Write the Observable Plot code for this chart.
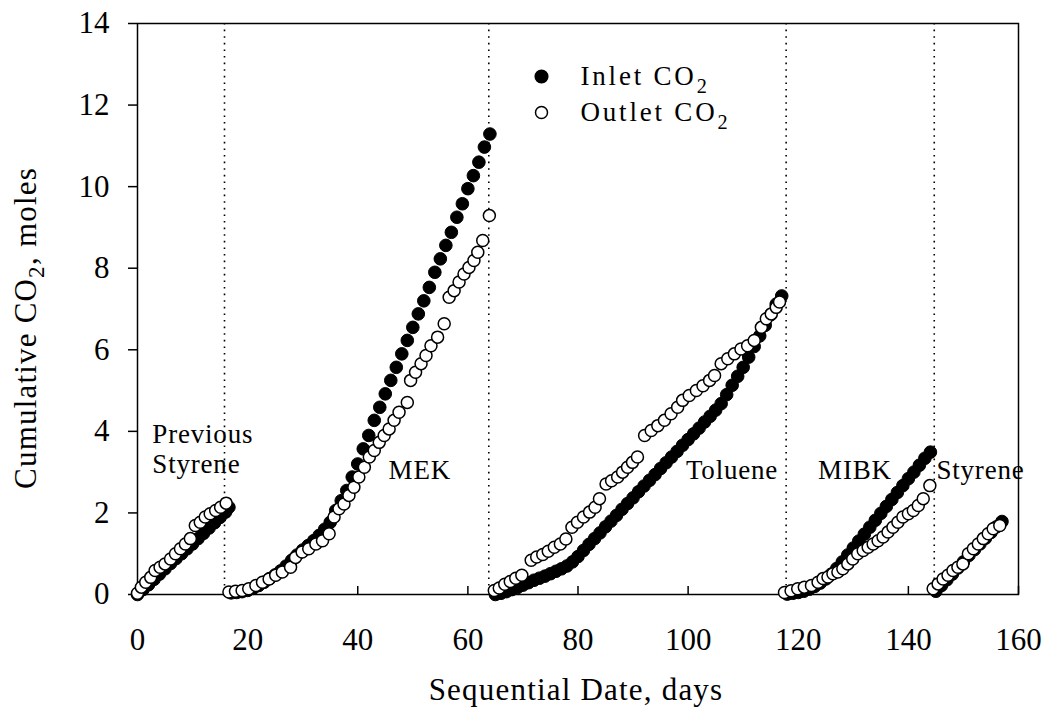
<!DOCTYPE html>
<html><head><meta charset="utf-8">
<script src="https://cdn.jsdelivr.net/npm/d3@7"></script>
<script src="https://cdn.jsdelivr.net/npm/@observablehq/plot@0.6"></script>
<style>
body{margin:0;background:#fff}
</style>
</head><body><div id="chart"></div>
<script>
// ---- Previous Styrene ----
const prevInletDay = [0,1,2,3,4,5,6,7,8,9,10,11,12,13,14,15,16,16.6];
const prevInletCO2 = [0.00,0.12,0.24,0.37,0.50,0.63,0.76,0.88,1.00,1.12,1.24,1.37,1.50,1.63,1.76,1.89,2.02,2.14];
const prevOutletDay = [0,0.7,1.5,2.4,3.2,4.1,5.0,6.0,6.9,7.8,8.7,9.6,10.5,11.4,12.3,13.2,14.2,15.1,16.1];
const prevOutletCO2 = [0.03,0.18,0.30,0.42,0.59,0.67,0.75,0.87,1.00,1.12,1.24,1.37,1.69,1.77,1.90,1.98,2.06,2.14,2.24];

// ---- MEK ----
const mekInletDay = [17,18,19,20,21,22,23,24,25,26,27,28,29,30,31,32,33,34,35,36,37,38,39,40,41,42,43,44,45,46,47,48,49,50,51,52,53,54,55,56,57,58,59,60,61,62,63,64];
const mekInletCO2 = [0.04,0.05,0.07,0.10,0.15,0.22,0.30,0.39,0.48,0.58,0.70,0.84,0.97,1.09,1.20,1.32,1.45,1.60,1.77,2.06,2.30,2.55,2.88,3.20,3.57,3.90,4.27,4.59,4.92,5.25,5.57,5.90,6.23,6.55,6.88,7.20,7.53,7.90,8.23,8.56,8.88,9.25,9.58,9.95,10.27,10.60,10.97,11.29];
const mekOutletDay = [16.6,17.8,19.0,20.2,21.5,22.7,23.9,25.1,26.3,27.8,28.7,29.9,31.1,32.4,33.6,34.8,35.7,36.6,37.5,38.4,39.3,40.2,41.2,42.1,43.0,43.9,44.8,45.7,46.6,47.5,49.0,49.6,50.5,51.5,52.4,53.3,54.5,55.7,56.6,57.5,58.4,59.3,60.2,61.1,61.8,62.7,63.9];
const mekOutletCO2 = [0.06,0.08,0.10,0.14,0.22,0.30,0.38,0.47,0.55,0.67,0.91,1.04,1.12,1.24,1.32,1.49,1.90,2.10,2.22,2.43,2.63,2.88,3.12,3.37,3.53,3.73,3.90,4.06,4.27,4.47,4.71,5.25,5.45,5.66,5.86,6.10,6.31,6.64,7.29,7.45,7.66,7.86,8.02,8.19,8.39,8.68,9.29];

// ---- Toluene ----
const tolInletDay = [65,66,67,68,69,70,71,72,73,74,75,76,77,78,79,80,81,82,83,84,85,86,87,88,89,90,91,92,93,94,95,96,97,98,99,100,101,102,103,104,105,106,107,108,109,110,111,112,113,114,115,116,117];
const tolInletCO2 = [0.00,0.03,0.07,0.12,0.17,0.23,0.29,0.35,0.40,0.45,0.51,0.57,0.63,0.70,0.80,0.93,1.08,1.23,1.37,1.51,1.66,1.80,1.94,2.09,2.23,2.37,2.52,2.66,2.80,2.94,3.09,3.23,3.37,3.51,3.66,3.80,3.94,4.08,4.23,4.37,4.52,4.68,4.90,5.13,5.35,5.57,5.82,6.08,6.34,6.60,6.86,7.12,7.32];
const tolOutletDay = [64.8,65.7,66.7,67.7,68.7,69.8,71.5,72.5,73.6,74.6,75.7,76.8,77.8,78.9,79.9,81.0,82.1,83.1,83.9,85.1,86.1,87.2,88.1,89.0,89.9,90.8,92.1,93.3,94.5,95.7,96.9,98.1,99.0,100.2,101.5,102.7,103.9,104.8,106.0,107.2,108.4,109.6,110.8,112.0,113.3,114.2,115.1,116.0,116.6];
const tolOutletCO2 = [0.10,0.16,0.25,0.32,0.40,0.47,0.84,0.92,0.98,1.06,1.16,1.24,1.36,1.65,1.77,1.90,2.02,2.14,2.35,2.71,2.79,2.88,3.00,3.12,3.24,3.37,3.90,4.02,4.14,4.27,4.43,4.59,4.76,4.88,5.00,5.12,5.25,5.37,5.66,5.78,5.90,6.02,6.10,6.23,6.55,6.76,6.88,7.04,7.17];

// ---- MIBK ----
const mibkInletDay = [118,119,120,121,122,123,124,125,126,127,128,129,130,131,132,133,134,135,136,137,138,139,140,141,142,143,144];
const mibkInletCO2 = [0.01,0.03,0.05,0.08,0.13,0.20,0.28,0.38,0.50,0.64,0.80,0.97,1.14,1.31,1.48,1.65,1.82,1.99,2.16,2.33,2.50,2.67,2.84,3.00,3.17,3.34,3.49];
const mibkOutletDay = [117.5,118.7,119.9,121.1,122.4,123.6,124.5,125.4,126.3,127.2,128.1,129.0,129.9,130.8,131.8,132.7,133.6,134.5,135.4,136.3,137.2,138.1,139.0,140.0,140.9,141.8,142.7,143.9];
const mibkOutletCO2 = [0.05,0.09,0.14,0.18,0.22,0.30,0.39,0.43,0.51,0.55,0.63,0.75,0.87,1.00,1.08,1.16,1.24,1.32,1.41,1.53,1.65,1.77,1.90,1.98,2.06,2.18,2.35,2.67];

// ---- Styrene ----
const styInletDay = [145,146,147,148,149,150,151,152,153,154,155,156,157];
const styInletCO2 = [0.08,0.22,0.36,0.50,0.65,0.80,0.96,1.10,1.24,1.38,1.52,1.66,1.79];
const styOutletDay = [144.5,145.4,146.3,147.2,148.1,149.0,149.9,150.9,151.8,152.7,153.6,154.5,155.4,156.6];
const styOutletCO2 = [0.14,0.26,0.38,0.47,0.59,0.67,0.75,1.00,1.12,1.24,1.37,1.49,1.61,1.69];

// ---- dividers, labels, ticks ----
const dividerDays = [15.8, 63.8, 117.8, 144.7];
const labelText = ["Previous", "Styrene", "MEK", "Toluene", "MIBK", "Styrene"];
const labelDay = [2.7, 2.7, 45.6, 99.6, 123.6, 145.1];
const labelCO2 = [3.72, 2.99, 2.82, 2.82, 2.82, 2.82];
const xTicks = [0, 20, 40, 60, 80, 100, 120, 140, 160];
const yTicks = [0, 2, 4, 6, 8, 10, 12, 14];
const legendLabels = ["Inlet CO\u2082", "Outlet CO\u2082"];
const xTitle = "Sequential Date, days";
const yTitle = "Cumulative CO\u2082, moles";

const rows = (days, vals) => days.map((d, i) => ({day: d, co2: vals[i]}));
const inlet = [].concat(
  rows(prevInletDay, prevInletCO2), rows(mekInletDay, mekInletCO2),
  rows(tolInletDay, tolInletCO2), rows(mibkInletDay, mibkInletCO2), rows(styInletDay, styInletCO2));
const outlet = [].concat(
  rows(prevOutletDay, prevOutletCO2), rows(mekOutletDay, mekOutletCO2),
  rows(tolOutletDay, tolOutletCO2), rows(mibkOutletDay, mibkOutletCO2), rows(styOutletDay, styOutletCO2));
const labels = labelText.map((t, i) => ({text: t, day: labelDay[i], co2: labelCO2[i]}));

const font = '"Liberation Serif","Times New Roman",Times,serif';
const chart = Plot.plot({
  width: 1044, height: 709,
  marginLeft: 137, marginRight: 26, marginTop: 23, marginBottom: 115,
  style: {fontFamily: font, background: "white", color: "black", overflow: "visible"},
  x: {domain: [0, 160]},
  y: {domain: [0, 14]},
  marks: [
    Plot.ruleX(dividerDays, {stroke: "black", strokeWidth: 1.6, strokeDasharray: "1.6,5"}),
    Plot.frame({stroke: "black", strokeWidth: 1.5}),
    Plot.axisY({ticks: yTicks, tickSize: 9, tickPadding: 19, fontSize: 31, label: null, strokeWidth: 1.5}),
    Plot.axisX({ticks: xTicks, tickSize: -8, tickPadding: 41, fontSize: 31, label: null, strokeWidth: 1.5}),
    Plot.dot(inlet, {x: "day", y: "co2", r: 6.3, fill: "black", stroke: "black", strokeWidth: 1}),
    Plot.dot(outlet, {x: "day", y: "co2", r: 6, fill: "white", stroke: "black", strokeWidth: 1.5}),
    Plot.text(labels, {x: "day", y: "co2", text: "text", textAnchor: "start", lineAnchor: "bottom", fontSize: 27}),
    Plot.dot([legendLabels[0]], {frameAnchor: "top-left", dx: 404, dy: 53, r: 6.3, fill: "black", stroke: "black"}),
    Plot.dot([legendLabels[1]], {frameAnchor: "top-left", dx: 404, dy: 89, r: 6, fill: "white", stroke: "black", strokeWidth: 1.5}),
    Plot.text([legendLabels[0]], {frameAnchor: "top-left", dx: 443, dy: 53, text: d => d, fontSize: 27, textAnchor: "start", lineAnchor: "middle"}),
    Plot.text([legendLabels[1]], {frameAnchor: "top-left", dx: 443, dy: 89, text: d => d, fontSize: 27, textAnchor: "start", lineAnchor: "middle"}),
    Plot.text([xTitle], {frameAnchor: "bottom", dx: -2, dy: 105, fontSize: 31, lineAnchor: "bottom"}),
    Plot.text([yTitle], {frameAnchor: "left", dx: -102, dy: 19, rotate: -90, fontSize: 31, lineAnchor: "bottom", textAnchor: "middle"})
  ]
});
document.getElementById("chart").appendChild(chart);

// typographic touches: letter spacing and a proper subscript "2"
const spacing = new Map([[xTitle, "1.2px"], [yTitle, "1.2px"], [legendLabels[0], "2.8px"], [legendLabels[1], "2.8px"]]);
labelText.forEach(t => spacing.set(t, "0.8px"));
d3.select(chart).selectAll("text").each(function () {
  const t = this.textContent;
  if (spacing.has(t)) this.setAttribute("letter-spacing", spacing.get(t));
  if (t.includes("\u2082")) {
    const fs = parseFloat(getComputedStyle(this).fontSize) || 27;
    const [a, b] = t.split("\u2082");
    const sel = d3.select(this);
    sel.text(null);
    sel.append("tspan").text(a);
    sel.append("tspan").attr("font-size", (fs * 0.75).toFixed(1)).attr("dy", (fs * 0.28).toFixed(1)).text("2");
    if (b) sel.append("tspan").attr("dy", (-fs * 0.28).toFixed(1)).text(b);
  }
});
</script>
</body></html>
